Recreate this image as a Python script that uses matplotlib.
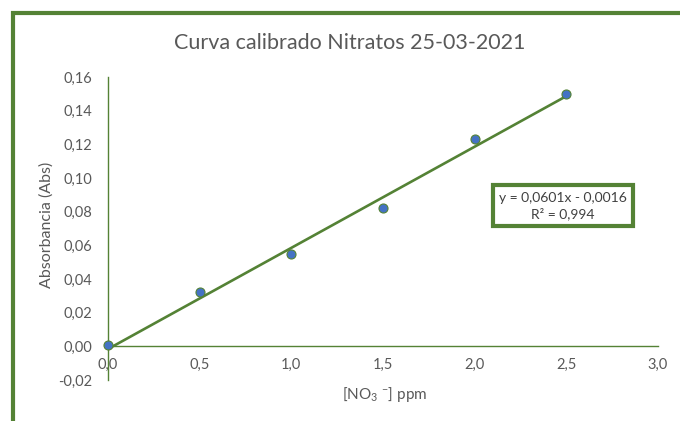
import numpy as np
import matplotlib.pyplot as plt
from matplotlib.patches import Rectangle

# datos de calibrado
conc = [0.0, 0.5, 1.0, 1.5, 2.0, 2.5]
absorb = [0.001, 0.032, 0.055, 0.082, 0.123, 0.150]
pendiente = 0.0601
ordenada = -0.0016
xticks = [0.0, 0.5, 1.0, 1.5, 2.0, 2.5, 3.0]
yticks = [-0.02, 0.0, 0.02, 0.04, 0.06, 0.08, 0.10, 0.12, 0.14, 0.16]

verde = '#548235'
gris = '#595959'

plt.rcParams['font.family'] = ['Lato', 'DejaVu Sans']
plt.rcParams['mathtext.fontset'] = 'custom'
plt.rcParams['mathtext.rm'] = 'Lato'
plt.rcParams['mathtext.it'] = 'Lato'

fig = plt.figure(figsize=(6.8, 4.21), dpi=100)
ax = fig.add_axes([108/680, 1-380/421, 550/680, 303/421])

xl = np.array([0, 2.5])
ax.plot(xl, pendiente*xl + ordenada, color=verde, lw=1.9, zorder=2)
ax.plot(conc, absorb, 'o', ms=6.5, mfc='#4472C4', mec=verde, mew=0.8, zorder=3,
        clip_on=False)

ax.set_xlim(0, 3.0)
ax.set_ylim(-0.02, 0.16)
ax.set_xticks(xticks)
ax.set_yticks(yticks)
ax.set_xticklabels([f'{t:.1f}'.replace('.', ',') for t in xticks])
ax.set_yticklabels([f'{t:.2f}'.replace('.', ',') for t in yticks])
ax.tick_params(length=0, labelsize=10.5, labelcolor=gris)
ax.tick_params(axis='y', pad=11)
ax.tick_params(axis='x', pad=8)

ax.spines['top'].set_visible(False)
ax.spines['right'].set_visible(False)
ax.spines['bottom'].set_position(('data', 0))
for s in ['left', 'bottom']:
    ax.spines[s].set_color(verde)
    ax.spines[s].set_linewidth(1.0)

fig.text(47/680, 1-225/421, 'Absorbancia (Abs)', fontsize=11.5, color=gris,
         rotation=90, ha='center', va='center')
fig.text(385/680, 1-395/421, '[NO$_3$ $^{-}$] ppm', fontsize=11, color=gris,
         ha='center', va='center')
fig.text(350/680, 1-43/421, 'Curva calibrado Nitratos 25-03-2021', fontsize=15.5,
         color=gris, ha='center', va='center')

ax.text(0.827, 0.575, 'y = 0,0601x - 0,0016\nR² = 0,994', transform=ax.transAxes,
        ha='center', va='center', fontsize=10, color='#404040', linespacing=1.3,
        bbox=dict(boxstyle='square,pad=0.45', fc='white', ec=verde, lw=3))

# marco verde de la figura
fig.patches.append(Rectangle((13/680, -0.2), 1.5, 1-13/421+0.2, transform=fig.transFigure,
                             fill=False, ec=verde, lw=3))

fig.savefig('out.png', dpi=100)
